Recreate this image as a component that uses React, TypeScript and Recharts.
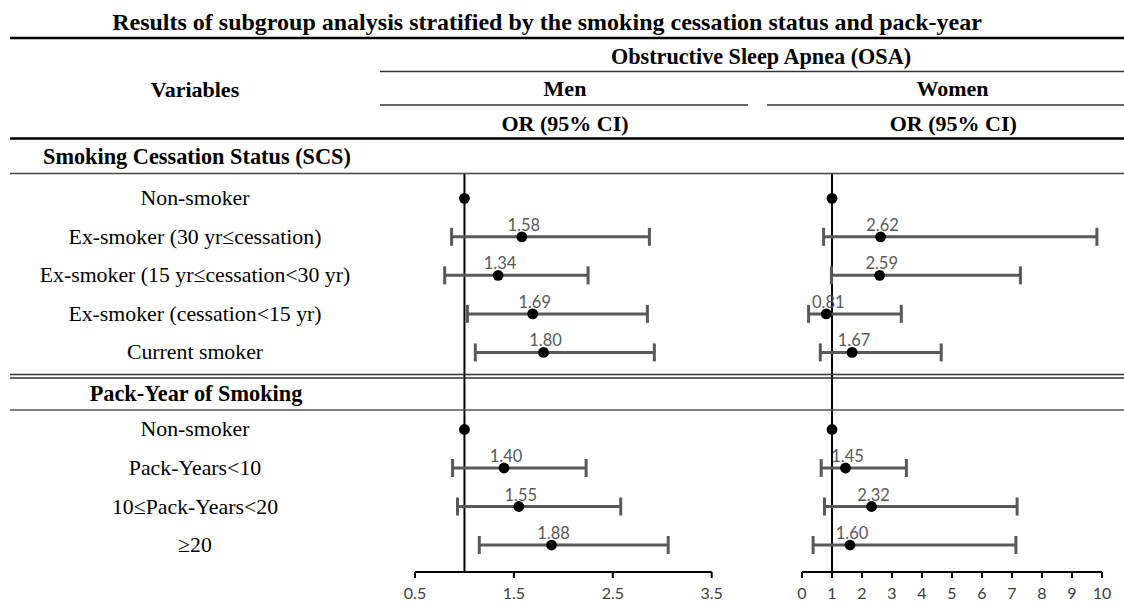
import React from 'react';
import { ScatterChart, Scatter, XAxis, YAxis, ErrorBar, ReferenceLine, LabelList } from 'recharts';

const titleText = 'Results of subgroup analysis stratified by the smoking cessation status and pack-year';
const outcomeLabel = 'Obstructive Sleep Apnea (OSA)';
const variablesLabel = 'Variables';
const panelTitles = ['Men', 'Women'];
const statLabel = 'OR (95% CI)';
const groupTitles = ['Smoking Cessation Status (SCS)', 'Pack-Year of Smoking'];

const scsLabels = [
  'Non-smoker',
  'Ex-smoker (30 yr≤cessation)',
  'Ex-smoker (15 yr≤cessation<30 yr)',
  'Ex-smoker (cessation<15 yr)',
  'Current smoker',
];
const packLabels = ['Non-smoker', 'Pack-Years<10', '10≤Pack-Years<20', '≥20'];

const menScsOR = [1.0, 1.58, 1.34, 1.69, 1.8];
const menScsLow = [1.0, 0.87, 0.8, 1.03, 1.11];
const menScsHigh = [1.0, 2.87, 2.25, 2.85, 2.92];
const menPackOR = [1.0, 1.4, 1.55, 1.88];
const menPackLow = [1.0, 0.88, 0.93, 1.15];
const menPackHigh = [1.0, 2.23, 2.58, 3.06];

const womenScsOR = [1.0, 2.62, 2.59, 0.81, 1.67];
const womenScsLow = [1.0, 0.72, 0.98, 0.22, 0.61];
const womenScsHigh = [1.0, 9.83, 7.28, 3.31, 4.64];
const womenPackOR = [1.0, 1.45, 2.32, 1.6];
const womenPackLow = [1.0, 0.64, 0.75, 0.37];
const womenPackHigh = [1.0, 3.48, 7.17, 7.13];

const menTicks = [0.5, 1.5, 2.5, 3.5];
const womenTicks = [0, 1, 2, 3, 4, 5, 6, 7, 8, 9, 10];
const referenceOR = 1;

type Row = { row: number; or: number; err: [number, number]; label: string; name: string; ref: boolean };

function buildRows(
  orA: number[], lowA: number[], highA: number[],
  orB: number[], lowB: number[], highB: number[]
): Row[] {
  const rows: Row[] = [];
  scsLabels.forEach((name, i) => {
    rows.push({ row: i, or: orA[i], err: [orA[i] - lowA[i], highA[i] - orA[i]], label: orA[i].toFixed(2), name, ref: i === 0 });
  });
  const off = scsLabels.length + 1;
  packLabels.forEach((name, i) => {
    rows.push({ row: off + i, or: orB[i], err: [orB[i] - lowB[i], highB[i] - orB[i]], label: orB[i].toFixed(2), name, ref: i === 0 });
  });
  return rows;
}

const menRows = buildRows(menScsOR, menScsLow, menScsHigh, menPackOR, menPackLow, menPackHigh);
const womenRows = buildRows(womenScsOR, womenScsLow, womenScsHigh, womenPackOR, womenPackLow, womenPackHigh);

const ROW_DOMAIN: [number, number] = [-0.631, 9.7];
const SERIF = '"Liberation Serif", "Times New Roman", serif';
const SANS = 'Lato, "Open Sans", sans-serif';

const dot = (p: any) => <circle cx={p.cx} cy={p.cy} r={5.4} fill="#000" />;

const renderValue = (p: any) => {
  const vb = p.viewBox && p.viewBox.width !== undefined ? p.viewBox : p;
  const cx = vb.x + (vb.width || 0) / 2;
  const cy = vb.y + (vb.height || 0) / 2;
  return (
    <text x={cx + 2} y={cy - 6} textAnchor="middle" fill="#595959" fontSize={16.5} fontFamily={SANS}>
      {p.value}
    </text>
  );
};

function makeNameTick(rows: Row[]) {
  return (p: any) => {
    const r = rows.find((x) => x.row === p.payload.value);
    return (
      <text x={195} y={p.y} textAnchor="middle" dominantBaseline="central" fontFamily={SERIF} fontSize={21.8} fill="#000">
        {r ? r.name : ''}
      </text>
    );
  };
}

function Panel(props: {
  rows: Row[]; domain: [number, number]; ticks: number[]; left: number; width: number;
  margin: { top: number; right: number; bottom: number; left: number }; yWidth: number; showNames: boolean;
}) {
  const { rows, domain, ticks, left, width, margin, yWidth, showNames } = props;
  const refs = rows.filter((r) => r.ref);
  const est = rows.filter((r) => !r.ref);
  return (
    <div style={{ position: 'absolute', left, top: 164 }}>
      <ScatterChart width={width} height={443} margin={margin}>
        <XAxis
          type="number"
          dataKey="or"
          domain={domain}
          ticks={ticks}
          interval={0}
          allowDataOverflow
          height={35}
          tickSize={6}
          tickMargin={10}
          axisLine={{ stroke: '#000', strokeWidth: 2 }}
          tickLine={{ stroke: '#000', strokeWidth: 2 }}
          tick={{ fill: '#404040', fontSize: 16, fontFamily: SANS }}
        />
        <YAxis
          type="number"
          dataKey="row"
          domain={ROW_DOMAIN}
          reversed
          allowDataOverflow
          ticks={rows.map((r) => r.row)}
          interval={0}
          width={yWidth}
          hide={!showNames}
          axisLine={false}
          tickLine={false}
          tick={showNames ? makeNameTick(rows) : false}
        />
        <ReferenceLine x={referenceOR} stroke="#000" strokeWidth={2} />
        <Scatter data={est} isAnimationActive={false} shape={dot}>
          <ErrorBar dataKey="err" direction="x" width={9} strokeWidth={3} stroke="#595959" />
          <LabelList dataKey="label" content={renderValue} />
        </Scatter>
        <Scatter data={refs} isAnimationActive={false} shape={dot} />
      </ScatterChart>
    </div>
  );
}

export default function App() {
  const line = (x1: number, x2: number, y: number, w: number, c: string) => (
    <line x1={x1} x2={x2} y1={y} y2={y} stroke={c} strokeWidth={w} />
  );
  return (
    <div style={{ position: 'absolute', left: 0, top: 0, width: 1124, height: 607, background: '#fff', overflow: 'hidden' }}>
      <Panel
        rows={menRows}
        domain={[0.5, 3.5]}
        ticks={menTicks}
        left={0}
        width={735}
        margin={{ top: 10, right: 23.3, bottom: 0, left: 0 }}
        yWidth={415}
        showNames
      />
      <Panel
        rows={womenRows}
        domain={[0, 10]}
        ticks={womenTicks}
        left={781.7}
        width={340}
        margin={{ top: 10, right: 20, bottom: 0, left: 20 }}
        yWidth={0}
        showNames={false}
      />
      <svg width={1124} height={607} style={{ position: 'absolute', left: 0, top: 0, pointerEvents: 'none' }}>
        {line(10, 1124, 38, 2.5, '#000')}
        {line(380, 1124, 71.5, 1.3, '#333')}
        {line(380, 748, 105, 1.3, '#333')}
        {line(767, 1124, 105, 1.3, '#333')}
        {line(10, 1124, 138.5, 2.5, '#000')}
        {line(10, 1124, 173.5, 1.3, '#444')}
        {line(10, 1124, 374.5, 1.3, '#333')}
        {line(10, 1124, 378, 1.3, '#333')}
        {line(10, 1124, 410, 1.3, '#555')}
        <g fontFamily={SERIF} fill="#000" fontWeight="bold" dominantBaseline="central" textAnchor="middle">
          <text x={547} y={22} fontSize={24}>{titleText}</text>
          <text x={761} y={56.5} fontSize={22.2}>{outcomeLabel}</text>
          <text x={195} y={89} fontSize={22}>{variablesLabel}</text>
          <text x={565} y={88.3} fontSize={22}>{panelTitles[0]}</text>
          <text x={952.5} y={88.3} fontSize={22}>{panelTitles[1]}</text>
          <text x={565} y={123.3} fontSize={22}>{statLabel}</text>
          <text x={953.3} y={123.3} fontSize={22}>{statLabel}</text>
          <text x={43} y={156} fontSize={22.3} textAnchor="start">{groupTitles[0]}</text>
          <text x={196} y={393} fontSize={22.3}>{groupTitles[1]}</text>
        </g>
      </svg>
    </div>
  );
}
